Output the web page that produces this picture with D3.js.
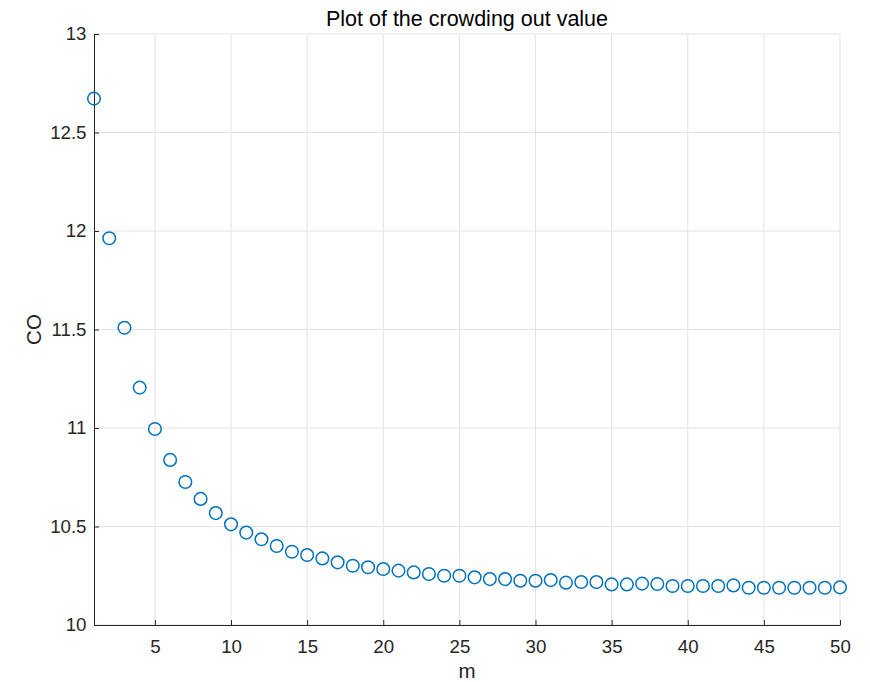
<!DOCTYPE html>
<html>
<head>
<meta charset="utf-8">
<script src="https://cdn.jsdelivr.net/npm/d3@7"></script>
<style>
  body { margin: 0; background: #fff; }
  svg { display: block; font-family: "Liberation Sans", Arial, Helvetica, sans-serif; }
</style>
</head>
<body>
<svg id="chart" width="870" height="682"></svg>
<script>
const titleText = "Plot of the crowding out value";
const xLabel = "m";
const yLabel = "CO";
const mValues = d3.range(1, 51);
const coValues = [
  12.672, 11.963, 11.509, 11.205, 10.995, 10.838, 10.726, 10.640, 10.568, 10.511,
  10.469, 10.435, 10.401, 10.372, 10.355, 10.338, 10.318, 10.301, 10.293, 10.284,
  10.276, 10.267, 10.259, 10.250, 10.250, 10.242, 10.233, 10.233, 10.225, 10.225,
  10.228, 10.215, 10.218, 10.218, 10.206, 10.206, 10.210, 10.208, 10.198, 10.198,
  10.198, 10.198, 10.201, 10.189, 10.189, 10.189, 10.189, 10.189, 10.189, 10.191
];
const xTicks = [5, 10, 15, 20, 25, 30, 35, 40, 45, 50];
const yTicks = [10, 10.5, 11, 11.5, 12, 12.5, 13];

const svg = d3.select("#chart");
const mLeft = 94, mRight = 840, mTop = 34, mBottom = 625;

const x = d3.scaleLinear().domain([1, 50]).range([mLeft, mRight]);
const y = d3.scaleLinear().domain([10, 13]).range([mBottom, mTop]);

const gridColor = "#e3e3e3";
const axisColor = "#262626";

// grid
svg.append("g").selectAll("line").data(xTicks).join("line")
  .attr("x1", d => x(d)).attr("x2", d => x(d))
  .attr("y1", mTop).attr("y2", mBottom)
  .attr("stroke", gridColor).attr("stroke-width", 1);
svg.append("g").selectAll("line").data(yTicks).join("line")
  .attr("x1", mLeft).attr("x2", mRight)
  .attr("y1", d => y(d)).attr("y2", d => y(d))
  .attr("stroke", gridColor).attr("stroke-width", 1);

// axes
const xAxis = d3.axisBottom(x).tickValues(xTicks).tickSizeInner(-5).tickSizeOuter(0).tickPadding(15)
  .tickFormat(d3.format("d"));
const gx = svg.append("g").attr("transform", `translate(0,${mBottom})`).call(xAxis);
const yAxis = d3.axisLeft(y).tickValues(yTicks).tickSizeInner(-5).tickSizeOuter(0).tickPadding(7.5)
  .tickFormat(d => d3.format("")(d));
const gy = svg.append("g").attr("transform", `translate(${mLeft},0)`).call(yAxis);

[gx, gy].forEach(g => {
  g.select(".domain").attr("stroke", axisColor).attr("stroke-width", 1);
  g.selectAll(".tick line").attr("stroke", axisColor);
  g.selectAll(".tick text").attr("fill", axisColor)
    .style("font-size", "18.7px").style("font-family", "'Liberation Sans', Arial, sans-serif");
});

// points
svg.append("g").selectAll("circle").data(mValues).join("circle")
  .attr("cx", d => x(d))
  .attr("cy", (d, i) => y(coValues[i]))
  .attr("r", 6.3)
  .attr("fill", "none")
  .attr("stroke", "#0072BD")
  .attr("stroke-width", 1.5);

// labels
svg.append("text").attr("x", (mLeft + mRight) / 2).attr("y", 26)
  .attr("text-anchor", "middle").attr("fill", "#000")
  .style("font-size", "21.5px").text(titleText);
svg.append("text").attr("x", (mLeft + mRight) / 2).attr("y", 678)
  .attr("text-anchor", "middle").attr("fill", axisColor)
  .style("font-size", "20.5px").text(xLabel);
svg.append("text").attr("transform", `translate(40.5,${(mTop + mBottom) / 2}) rotate(-90)`)
  .attr("text-anchor", "middle").attr("fill", axisColor)
  .style("font-size", "20.5px").text(yLabel);
</script>
</body>
</html>
